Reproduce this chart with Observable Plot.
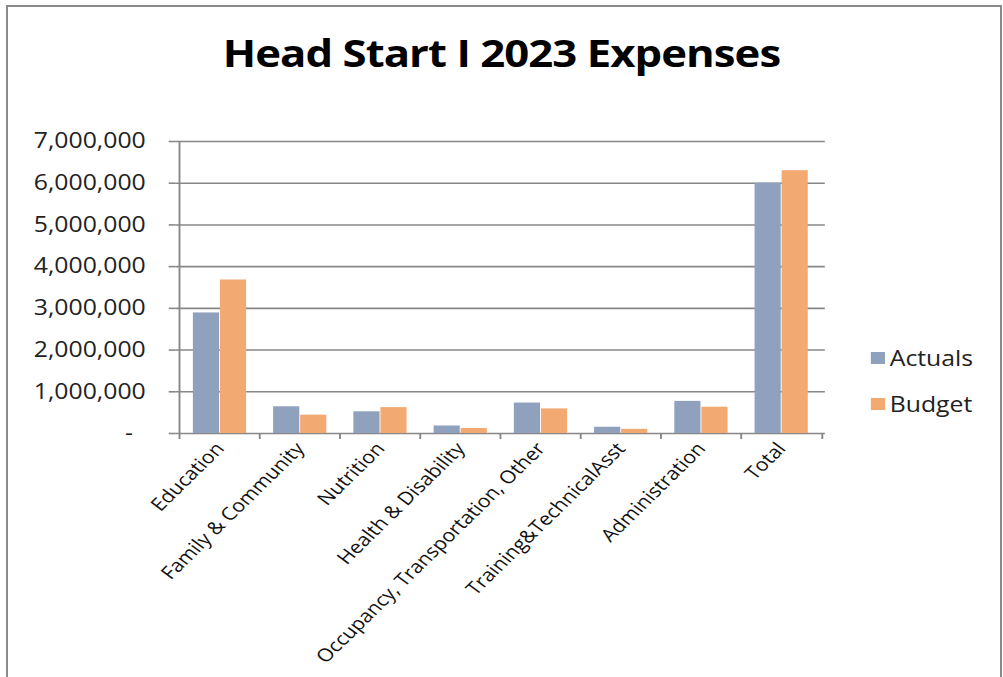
<!DOCTYPE html>
<html>
<head>
<meta charset="utf-8">
<script src="https://cdn.jsdelivr.net/npm/d3@7"></script>
<script src="https://cdn.jsdelivr.net/npm/@observablehq/plot@0.6"></script>
<style>
  html, body { margin: 0; padding: 0; background: #fff; }
  #frame { position: absolute; left: 0; top: 0; width: 1003px; height: 677px; overflow: hidden; background: #fff; }
  #border { position: absolute; left: 6px; top: 5px; width: 996px; height: 720px; border: 2px solid #8a8a8a; border-bottom: none; box-sizing: border-box; }
  #stage { position: absolute; left: 0; top: 0; width: 850px; height: 677px; transform: scaleX(1.18); transform-origin: 0 0; font-family: "Open Sans", sans-serif; }
  #title { position: absolute; left: 0; top: 34px; width: 850px; text-align: center; font-size: 37px; line-height: 38px; font-weight: 700; color: #000; letter-spacing: -0.8px; }
  #chart { position: absolute; left: 0; top: 95px; }
  #legend { position: absolute; left: 738px; top: 0; font-size: 21px; color: #222; }
  .item { position: absolute; left: 0; white-space: nowrap; display: flex; align-items: center; height: 24px; }
  .sw { width: 12px; height: 12px; margin-right: 4px; }
</style>
</head>
<body>
<div id="frame">
  <div id="border"></div>
  <div id="stage">
    <div id="title">Head Start I 2023 Expenses</div>
    <div id="chart"></div>
    <div id="legend"></div>
  </div>
</div>
<script>
const categories = ["Education", "Family & Community", "Nutrition", "Health & Disability", "Occupancy, Transportation, Other", "Training&TechnicalAsst", "Administration", "Total"];
const series = ["Actuals", "Budget"];
const actuals = [2890000, 640000, 520000, 180000, 730000, 150000, 770000, 6000000];
const budget = [3680000, 440000, 620000, 120000, 590000, 100000, 630000, 6300000];
const yTicks = [0, 1000000, 2000000, 3000000, 4000000, 5000000, 6000000, 7000000];
const colors = ["#8fa1bd", "#f2a972"];

const rows = categories.flatMap((c, i) => [
  {category: c, series: "Actuals", value: actuals[i]},
  {category: c, series: "Budget", value: budget[i]}
]);

const W = 850, H = 582, mL = 149, mR = 151, mT = 46, mB = 244;
const bw = (W - mL - mR) / categories.length;
const grid = "#878787";
const fmt = d3.format(",");

const chart = Plot.plot({
  width: W, height: H,
  marginLeft: mL, marginRight: mR, marginTop: mT, marginBottom: mB,
  style: {fontFamily: "Open Sans, sans-serif", background: "transparent", overflow: "visible"},
  x: {domain: categories, padding: 0, label: null},
  y: {domain: [0, 7000000], label: null},
  color: {domain: series, range: colors},
  marks: [
    Plot.gridY(yTicks, {stroke: grid, strokeOpacity: 1, strokeWidth: 1.6}),
    Plot.barY(rows.filter(d => d.series === "Actuals"), {x: "category", y: "value", fill: "series", insetLeft: bw / 6, insetRight: bw / 2}),
    Plot.barY(rows.filter(d => d.series === "Budget"), {x: "category", y: "value", fill: "series", insetLeft: bw / 2, insetRight: bw / 6}),
    Plot.ruleX([categories[0]], {dx: -bw / 2, stroke: grid, strokeWidth: 1.6}),
    Plot.axisY(yTicks, {text: null, tickSize: 6, stroke: grid, strokeWidth: 1.6, label: null}),
    Plot.axisY(yTicks, {tickSize: 0, tickPadding: 26, fontSize: 21, fill: "#222", label: null,
      tickFormat: d => d === 0 ? "-\u00a0\u00a0" : fmt(d)}),
    Plot.axisX({text: null, tickSize: 6, dx: -bw / 2, stroke: grid, strokeWidth: 1.6, label: null}),
    Plot.axisX([categories[categories.length - 1]], {text: null, tickSize: 6, dx: bw / 2, stroke: grid, strokeWidth: 1.6, label: null}),
    Plot.axisX({tickSize: 0, tickPadding: 12, tickRotate: -49, fontSize: 18, fill: "#111", label: null})
  ]
});
document.getElementById("chart").appendChild(chart);

const legend = document.getElementById("legend");
const legendY = [346, 392];
series.forEach((s, i) => {
  const it = document.createElement("div");
  it.className = "item";
  it.style.top = legendY[i] + "px";
  it.innerHTML = `<div class="sw" style="background:${colors[i]}"></div><span>${s}</span>`;
  legend.appendChild(it);
});
</script>
</body>
</html>
